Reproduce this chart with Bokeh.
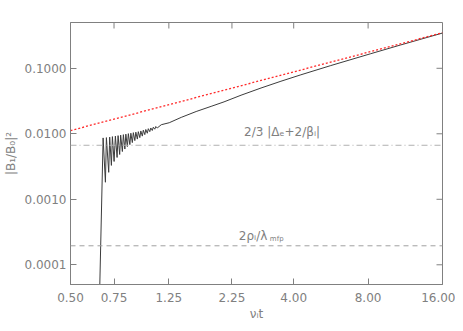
import math
from bokeh.plotting import figure
from bokeh.models import FixedTicker, Label, Span, Range1d
from bokeh.embed import file_html
from bokeh.resources import INLINE

# ---- data ----
x_ticks = [0.5, 0.75, 1.25, 2.25, 4.0, 8.0, 16.0]
x_tick_labels = ["0.50", "0.75", "1.25", "2.25", "4.00", "8.00", "16.00"]
y_ticks = [1e-4, 1e-3, 1e-2, 1e-1]
y_tick_labels = ["0.0001", "0.0010", "0.0100", "0.1000"]
x_min, x_max = 0.5, 16.0
y_min, y_max = 5e-5, 0.5

# oscillating onset of |B1/B0|^2 (alternating peaks / troughs)
osc_t = [0.655, 0.6776, 0.6922, 0.6986, 0.7138, 0.7204, 0.7319, 0.7387, 0.7505,
         0.7596, 0.7717, 0.7789, 0.7906, 0.7979, 0.8106, 0.8182, 0.8297, 0.8374,
         0.8491, 0.8571, 0.8692, 0.8773, 0.8896, 0.8979, 0.9105, 0.919, 0.9319,
         0.9406, 0.9538, 0.9627, 0.9762, 0.9853, 0.9991, 1.0084, 1.0226, 1.0322,
         1.0466, 1.0564, 1.0712, 1.0812, 1.0964, 1.1067, 1.1221]
osc_b = [3e-5, 0.00865, 0.00182, 0.00874, 0.00258, 0.00889, 0.00329, 0.00905, 0.00378,
         0.00921, 0.00435, 0.00937, 0.00483, 0.00954, 0.00536, 0.0097, 0.00585, 0.00987,
         0.00638, 0.01005, 0.00684, 0.0102, 0.00734, 0.0104, 0.00787, 0.01058, 0.0083,
         0.01077, 0.00874, 0.01104, 0.00921, 0.01135, 0.0097, 0.01163, 0.0102, 0.01196,
         0.01077, 0.01226, 0.01123, 0.0126, 0.01175, 0.01292, 0.01226]
# smooth secular growth
smooth_t = [1.1647, 1.2545, 1.4025, 1.612, 1.853, 2.09, 2.449, 2.95, 3.552, 4.277,
            5.65, 8.20, 10.83, 16.0]
smooth_b = [0.01375, 0.01475, 0.0178, 0.02187, 0.02622, 0.0307, 0.0388, 0.05, 0.0634,
            0.0795, 0.11, 0.167, 0.227, 0.345]

# red dotted reference line (~ t)
ref_t = [0.5, 16.0]
ref_b = [0.0112, 0.349]

level_anis = 0.00668   # 2/3 |Delta_e + 2/beta_i|
level_mfp = 0.000195   # 2 rho_i / lambda_mfp

label_anis_pos = (2.52, 0.0108)
label_mfp_pos = (2.40, 0.000276)

GRAY = "#808080"
FONT = "DejaVu Sans"

p = figure(width=455, height=323, x_axis_type="log", y_axis_type="log",
           x_range=Range1d(x_min, x_max), y_range=Range1d(y_min, y_max),
           output_backend="svg", toolbar_location=None,
           min_border_left=69, min_border_right=13, min_border_top=22,
           min_border_bottom=37)
p.outline_line_color = GRAY
p.xgrid.grid_line_color = None
p.ygrid.grid_line_color = None
p.background_fill_color = "white"
p.border_fill_color = "white"

def style_axis(ax, ticks, labels):
    ax.ticker = FixedTicker(ticks=ticks)
    ax.axis_line_color = GRAY
    ax.major_tick_line_color = GRAY
    ax.major_tick_in = 6
    ax.major_tick_out = 0
    ax.minor_tick_line_color = None
    ax.major_label_text_color = GRAY
    ax.major_label_text_font = FONT
    ax.major_label_text_font_size = "12px"
    ax.axis_label_text_color = GRAY
    ax.axis_label_text_font = FONT
    ax.axis_label_text_font_size = "12px"
    ax.axis_label_text_font_style = "normal"
    ax.major_label_overrides = {t: l for t, l in zip(ticks, labels)}

xa = p.xaxis[0]
style_axis(xa, x_ticks, x_tick_labels)
xa.major_label_standoff = 8
xa.axis_label = "νᵢt"
xa.axis_label_standoff = 2

ya = p.yaxis[0]
style_axis(ya, y_ticks, y_tick_labels)
ya.major_label_standoff = 4
ya.axis_label = "|B₁/B₀|²"
ya.axis_label_standoff = 4

# mirrored inward ticks on the top and right frame edges
p.ray(x=x_ticks, y=[y_max] * len(x_ticks), length=6, length_units="screen",
      angle=-math.pi / 2, line_color=GRAY, line_width=1)
p.ray(x=[x_max] * len(y_ticks), y=y_ticks, length=6, length_units="screen",
      angle=math.pi, line_color=GRAY, line_width=1)

p.add_layout(Span(location=level_anis, dimension="width", line_color="#b0b0b0",
                  line_width=1, line_dash="6 3 1 3"))
p.add_layout(Span(location=level_mfp, dimension="width", line_color="#a0a0a0",
                  line_width=1, line_dash="5 4"))

p.line(osc_t + smooth_t, osc_b + smooth_b, line_color="#3c3c3c", line_width=1)
p.line(ref_t, ref_b, line_color="#ff2a2a", line_width=1.3, line_dash="2 2")

p.add_layout(Label(x=label_anis_pos[0], y=label_anis_pos[1], text="2/3 |Δₑ+2/βᵢ|",
                   text_font=FONT, text_font_size="12px", text_color=GRAY,
                   text_baseline="middle"))
p.add_layout(Label(x=label_mfp_pos[0], y=label_mfp_pos[1], text="2ρᵢ/λ",
                   text_font=FONT, text_font_size="12px", text_color=GRAY,
                   text_baseline="middle"))
p.add_layout(Label(x=label_mfp_pos[0], y=label_mfp_pos[1], text="mfp",
                   x_offset=31, y_offset=-3,
                   text_font=FONT, text_font_size="7px", text_color=GRAY,
                   text_baseline="middle"))

open("out.html", "w").write(file_html(p, INLINE))
